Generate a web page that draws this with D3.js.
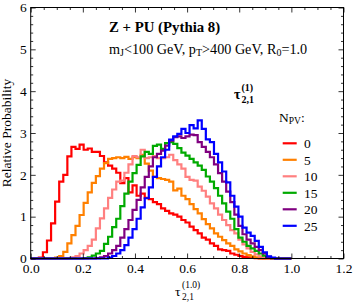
<!DOCTYPE html>
<html><head><meta charset="utf-8">
<script src="https://cdn.jsdelivr.net/npm/d3@7"></script>
<style>body{margin:0;background:#fff}svg{display:block}text{font-family:"Liberation Serif","Times New Roman",serif;fill:#000}</style>
</head><body><svg id="c" width="354" height="305"></svg>
<script>
const binCount = 64;
const nPV = ["0","5","10","15","20","25"];
const colors = ["#ff0000","#ff8000","#ff8080","#00aa00","#800080","#0000ff"];
const red = [0,0,0.02,0.15,0.43,0.84,1.36,1.84,2.0,2.44,2.67,2.62,2.72,2.6,2.63,2.55,2.55,2.45,2.3,2.22,2.15,2.05,1.8,1.92,1.58,1.75,1.5,1.55,1.45,1.42,1.35,1.3,1.2,1.14,1.08,1.05,1.0,0.92,0.86,0.76,0.68,0.6,0.5,0.45,0.36,0.3,0.22,0.2,0.18,0.12,0.09,0.06,0.04,0.03,0.02,0.01,0,0,0,0,0,0,0,0];
const orange = [0,0,0,0,0,0,0.02,0.06,0.16,0.36,0.56,0.78,1.04,1.33,1.58,1.81,1.97,2.15,2.28,2.38,2.4,2.42,2.4,2.43,2.38,2.42,2.4,2.48,2.27,2.1,1.95,1.92,1.9,1.88,1.84,1.63,1.67,1.5,1.42,1.3,1.18,1.08,0.94,0.82,0.72,0.6,0.52,0.44,0.36,0.3,0.22,0.17,0.12,0.08,0.05,0.03,0.01,0,0,0,0,0,0,0];
const pink = [0,0,0,0,0,0,0,0,0,0.01,0.03,0.06,0.12,0.2,0.3,0.45,0.72,0.96,1.2,1.45,1.65,1.84,1.86,2.05,2.25,2.45,2.42,2.6,2.4,2.42,2.45,2.4,2.4,2.42,2.48,2.35,2.25,2.15,1.95,1.88,1.86,1.72,1.62,1.48,1.32,1.2,1.05,0.92,0.8,0.68,0.6,0.45,0.34,0.24,0.16,0.1,0.05,0.02,0,0,0,0,0,0];
const green = [0,0,0,0,0,0,0,0,0,0,0,0,0,0.01,0.03,0.07,0.12,0.18,0.35,0.52,0.75,0.95,1.25,1.55,1.84,2.04,2.24,2.44,2.55,2.5,2.69,2.72,2.62,2.76,2.78,2.74,2.64,2.53,2.46,2.38,2.3,2.22,2.12,1.96,1.84,1.68,1.5,1.32,1.12,0.95,0.7,0.5,0.4,0.3,0.24,0.18,0.12,0.07,0.03,0.01,0,0,0,0];
const purple = [0,0,0,0,0,0,0,0,0,0,0,0,0,0,0,0,0.01,0.03,0.06,0.12,0.2,0.3,0.5,0.7,0.92,1.16,1.4,1.7,1.95,2.2,2.42,2.5,2.58,2.7,2.82,2.9,2.92,2.88,2.92,2.96,2.95,2.78,2.67,2.55,2.42,2.25,2.04,1.84,1.6,1.35,1.05,0.78,0.58,0.45,0.36,0.28,0.2,0.12,0.04,0.01,0,0,0,0];
const blue = [0,0,0,0,0,0,0,0,0,0,0,0,0,0,0,0,0,0,0,0.02,0.06,0.12,0.2,0.32,0.5,0.7,0.95,1.22,1.44,1.7,1.95,2.2,2.42,2.6,2.84,2.92,2.98,3.1,3.0,3.19,3.11,3.3,3.1,2.85,2.78,2.5,2.3,2.08,1.82,1.5,1.24,1.0,0.74,0.62,0.54,0.42,0.28,0.15,0.05,0.02,0,0,0,0];
const series = [red, orange, pink, green, purple, blue];
const xMajor = [0,0.2,0.4,0.6,0.8,1.0,1.2];
const yMajor = [0,1,2,3,4,5,6];

const svg = d3.select("#c");
const L=30.7, R=343.5, T=7.5, B=258.5;
const x = d3.scaleLinear().domain([0,1.2]).range([L,R]);
const y = d3.scaleLinear().domain([0,6]).range([B,T]);
const fs = 13.5;

// histograms
const line = d3.line().x(d=>x(d[0])).y(d=>y(d[1])).curve(d3.curveStepAfter);
series.forEach((s,i)=>{
  const pts = s.map((v,k)=>[k/binCount, v]);
  pts.push([1, s[s.length-1]]);
  svg.append("path").attr("d", line(pts)).attr("fill","none")
    .attr("stroke", colors[i]).attr("stroke-width",2.2).attr("stroke-linejoin","miter");
});

// axes ticks
const xMinor = d3.range(0,1.2001,0.05).filter(v=>Math.abs(v/0.2-Math.round(v/0.2))>1e-6);
const yMinor = d3.range(0,6.001,0.2).filter(v=>Math.abs(v-Math.round(v))>1e-6);
function styleAxis(g){ g.select(".domain").remove(); g.selectAll("line").attr("stroke","#000").attr("stroke-width",0.8); g.selectAll("text").attr("font-size",fs).attr("font-family","Liberation Serif").attr("fill","#000"); }
svg.append("g").attr("transform",`translate(0,${B})`).call(d3.axisBottom(x).tickValues(xMajor).tickSize(-5).tickPadding(5).tickFormat(d3.format(".1f"))).call(styleAxis);
svg.append("g").attr("transform",`translate(0,${B})`).call(d3.axisBottom(x).tickValues(xMinor).tickSize(-2.5).tickFormat("")).call(styleAxis);
svg.append("g").attr("transform",`translate(0,${T})`).call(d3.axisTop(x).tickValues(xMajor).tickSize(-5).tickFormat("")).call(styleAxis);
svg.append("g").attr("transform",`translate(0,${T})`).call(d3.axisTop(x).tickValues(xMinor).tickSize(-2.5).tickFormat("")).call(styleAxis);
svg.append("g").attr("transform",`translate(${L},0)`).call(d3.axisLeft(y).tickValues(yMajor).tickSize(-5).tickPadding(4).tickFormat(d3.format("d"))).call(styleAxis);
svg.append("g").attr("transform",`translate(${L},0)`).call(d3.axisLeft(y).tickValues(yMinor).tickSize(-2.5).tickFormat("")).call(styleAxis);
svg.append("g").attr("transform",`translate(${R},0)`).call(d3.axisRight(y).tickValues(yMajor).tickSize(-5).tickFormat("")).call(styleAxis);
svg.append("g").attr("transform",`translate(${R},0)`).call(d3.axisRight(y).tickValues(yMinor).tickSize(-2.5).tickFormat("")).call(styleAxis);
svg.append("rect").attr("x",L).attr("y",T).attr("width",R-L).attr("height",B-T).attr("fill","none").attr("stroke","#000").attr("stroke-width",1);

// y axis title
svg.append("text").attr("transform","translate(11,133) rotate(-90)").attr("text-anchor","middle").attr("font-size",fs).text("Relative Probability");
// x axis title
svg.append("text").attr("x",175).attr("y",296).attr("font-size",fs).text("τ");
svg.append("text").attr("x",182).attr("y",288).attr("font-size",9.5).text("(1.0)");
svg.append("text").attr("x",182).attr("y",300).attr("font-size",9.5).text("2,1");

// titles
svg.append("text").attr("x",109).attr("y",32).attr("font-size",14.8).attr("font-weight","bold").text("Z + PU (Pythia 8)");
const sub = svg.append("text").attr("x",109).attr("y",54).attr("font-size",14.2);
sub.append("tspan").text("m");
sub.append("tspan").attr("font-size",10).attr("dy",2).text("J");
sub.append("tspan").attr("dy",-2).text("<100 GeV, p");
sub.append("tspan").attr("font-size",10).attr("dy",2).text("T");
sub.append("tspan").attr("dy",-2).text(">400 GeV, R");
sub.append("tspan").attr("font-size",10).attr("dy",2).text("0");
sub.append("tspan").attr("dy",-2).text("=1.0");

// legend header
svg.append("text").attr("x",234).attr("y",99).attr("font-size",14).attr("font-weight","bold").text("τ");
svg.append("text").attr("x",241.5).attr("y",91).attr("font-size",10).attr("font-weight","bold").text("(1)");
svg.append("text").attr("x",241.5).attr("y",103).attr("font-size",10).attr("font-weight","bold").text("2,1");
const np = svg.append("text").attr("x",279).attr("y",122).attr("font-size",fs);
np.append("tspan").text("N");
np.append("tspan").attr("font-size",9.5).attr("dy",1.5).text("PV");
np.append("tspan").attr("dy",-1.5).text(":");

const lg = svg.append("g");
nPV.forEach((n,i)=>{
  const yy = 143.3 + i*16.5;
  lg.append("line").attr("x1",282.7).attr("x2",296.7).attr("y1",yy).attr("y2",yy).attr("stroke",colors[i]).attr("stroke-width",2.2);
  lg.append("text").attr("x",304).attr("y",yy).attr("dy","0.35em").attr("font-size",fs).text(n);
});
</script></body></html>
